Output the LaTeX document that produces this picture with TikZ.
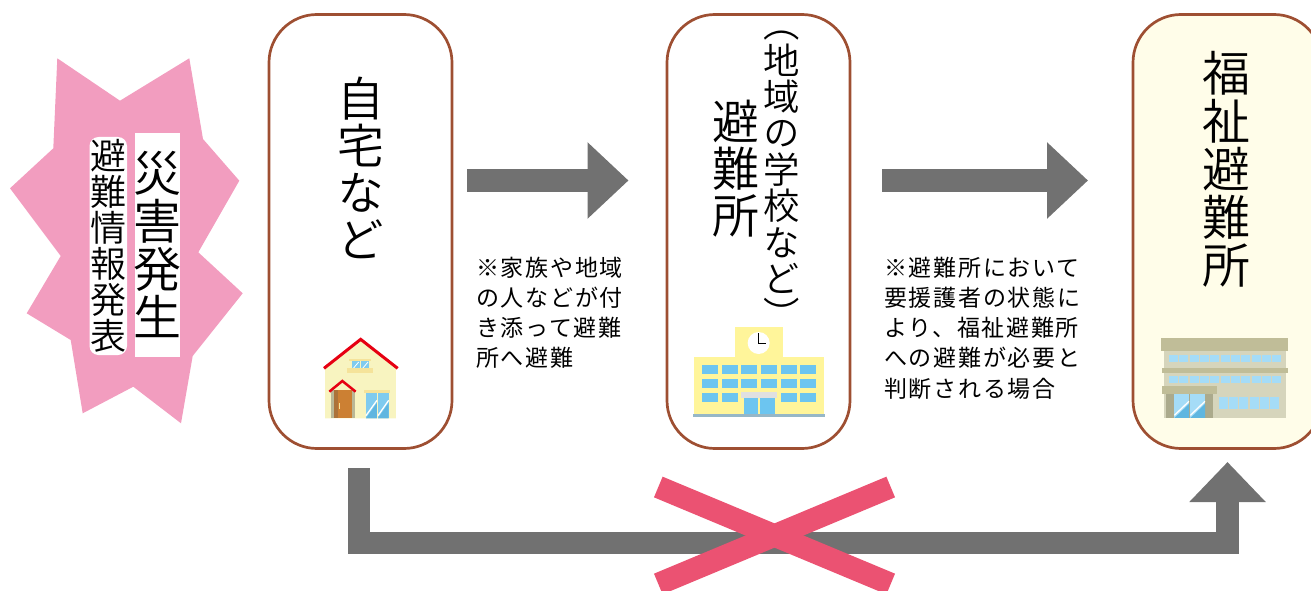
\documentclass[tikz,border=0pt]{standalone}
\usepackage{fontspec}
\usetikzlibrary{arrows.meta}
\setmainfont{Noto Sans CJK JP}
\newfontfamily\vjp[RawFeature={vertical}]{Noto Sans CJK JP DemiLight}
\newfontfamily\notejp[LetterSpace=7.5]{Noto Sans CJK JP}
\definecolor{boxline}{HTML}{9E4F32}
\definecolor{starpink}{HTML}{F29DBF}
\definecolor{arrowgray}{HTML}{717171}
\definecolor{crosspink}{HTML}{EB5272}
\definecolor{cream}{HTML}{FFFDE9}
\definecolor{wall}{HTML}{F8F4C0}
\definecolor{roofred}{HTML}{E60012}
\definecolor{trim}{HTML}{F5E39A}
\definecolor{glassd}{HTML}{5FB6E0}
\definecolor{glassl}{HTML}{7FCBEF}
\definecolor{schoolw}{HTML}{FFF59A}
\definecolor{schoolg}{HTML}{6CC5F0}
\definecolor{olive}{HTML}{C0BD98}
\definecolor{oliveb}{HTML}{D6D5BC}
\definecolor{porch}{HTML}{ABAA8C}
\definecolor{wglass}{HTML}{A5DCF7}
\newcommand{\zr}[5]{\fill[#5] (#1,#2) rectangle (#3,#4);}
\newcommand{\pane}[5]{% x1 y1 x2 y2 upper colour
  \fill[#5] (#1,#2) rectangle (#3,#4);
  \fill[glassd] (#1,#4) -- (#3,#2+30) -- (#3,#4) -- cycle;
  \draw[white,line width=1.3pt] (#1,#4-8) -- (#3,#2+22);}
\begin{document}
\begin{tikzpicture}[x=1pt,y=-1pt,
 placebox/.style={draw=boxline,line width=2.7pt,rounded corners=48pt,minimum width=183pt,minimum height=434pt,inner sep=0pt,outer sep=0pt},
 vt/.style={rotate=-90,inner sep=0pt,anchor=base west},
 note/.style={align=left,anchor=north west,inner sep=0pt},
 blockarrow/.style={draw=arrowgray,line width=23pt,-{Triangle[length=41pt,width=74pt]}},
 crossarm/.style={draw=crosspink,line width=22.4pt}]
\useasboundingbox (0,0) rectangle (1311,591);
% burst
\fill[starpink] (57.3,58.3) -- (120,100.7) -- (189.3,58.3) -- (203,139) -- (239.3,180.7) -- (198.3,252.3) -- (242.7,293.3) -- (192.7,356) -- (181,423.3) -- (133.3,386.7) -- (82.7,413.3) -- (70.7,340) -- (26.7,313.3) -- (60.7,256) -- (10,188.3) -- (53.3,148.3) -- cycle;
\fill[white] (135,133) rectangle (180,357);
\fill[white,rounded corners=9pt] (89.5,137) rectangle (127,355);
\node[vt,font=\vjp\fontsize{48}{48}\selectfont] (t0a) at (157.5,149) {災害発生};
\node[vt,font=\vjp\fontsize{36}{36}\selectfont] (t0b) at (108,137.5) {避難情報発表};
% boxes
\node[placebox,anchor=north west] (b1) at (269,14.5) {};
\node[placebox,anchor=north west] (b2) at (667,14.5) {};
\node[placebox,anchor=north west,fill=cream,minimum width=189pt] (b3) at (1133,14.5) {};
\node[vt,font=\vjp\fontsize{47}{47}\selectfont] (t1) at (361,75) {自宅など};
\node[vt,font=\vjp\fontsize{36.4}{36.4}\selectfont] (t2a) at (782,5.5) {（地域の学校など）};
\node[vt,font=\vjp\fontsize{47}{47}\selectfont] (t2b) at (736,98) {避難所};
\node[vt,font=\vjp\fontsize{48}{48}\selectfont] (t3) at (1226,49) {福祉避難所};
% arrows
\coordinate (a1s) at (467,180.5); \coordinate (a1e) at (628.5,180.5);
\coordinate (a2s) at (882,180.5); \coordinate (a2e) at (1088,180.5);
\coordinate (a3s) at (359,468); \coordinate (a3m) at (359,543); \coordinate (a3n) at (1227.5,543); \coordinate (a3e) at (1227.5,462);
\draw[blockarrow] (a1s) -- (a1e);
\draw[blockarrow] (a2s) -- (a2e);
\draw[blockarrow,line width=22.5pt,line join=miter,-{Triangle[length=40pt,width=74pt]}] (a3s) -- (a3m) -- (a3n) -- (a3e);
% cross
\coordinate (c1) at (658.3,487); \coordinate (c2) at (890.7,584);
\coordinate (c3) at (890.7,487); \coordinate (c4) at (658.3,584);
\draw[crossarm] (c1) -- (c2);
\draw[crossarm] (c3) -- (c4);
% notes
\node[note,font=\notejp\fontsize{23}{30.3}\selectfont] (n1) at (476,256.5) {※家族や地域\\の人などが付\\き添って避難\\所へ避難};
\node[note,font=\notejp\fontsize{23}{30.3}\selectfont] (n2) at (884,256.5) {※避難所において\\要援護者の状態に\\より、福祉避難所\\への避難が必要と\\判断される場合};
% house
\begin{scope}[shift={(300,320)},x=0.3333pt,y=-0.3333pt]
 \fill[wall] (75,295) -- (75,140) -- (182,60) -- (288,140) -- (288,295) -- cycle;
 \draw[roofred,line width=3pt] (72,145) -- (182,58) -- (293,145);
 \zr{147}{117}{213}{122}{trim}
 \zr{155}{123}{180}{145}{glassl} \zr{183}{123}{208}{145}{glassl}
 \draw[white,line width=.8pt] (160,145)--(176,126) (188,145)--(204,126);
 \zr{141}{144}{219}{158}{trim}
 \zr{93}{210}{165}{295}{olive!90!gray}
 \zr{102}{210}{156}{295}{brown!80!orange}
 \zr{102}{210}{114}{295}{brown!90!black}
 \zr{117}{248}{121}{267}{trim}
 \draw[roofred,line width=2.5pt] (88,215) -- (127,183) -- (167,215);
 \zr{192}{210}{270}{219}{trim}
 \pane{198}{219}{231}{295}{glassl}
 \pane{234}{219}{266}{295}{glassl}
\end{scope}
% school
\begin{scope}[shift={(680,310)},x=0.3333pt,y=-0.3333pt]
 \zr{165}{50}{309}{141}{schoolw}
 \zr{41}{141}{432}{312}{schoolw}
 \zr{39}{312}{435}{321}{wglass!60!gray}
 \fill[white] (236,99) circle[radius=11pt];
 \draw[black,line width=1pt] (235,70) -- (235,101) -- (258,101);
 \foreach \xa/\xb in {66/114,126/174,183/231,243/291,303/351,360/408}{
  \zr{\xa}{165}{\xb}{192}{schoolg} \zr{\xa}{207}{\xb}{234}{schoolg}}
 \foreach \xa/\xb in {66/114,126/174,303/351,360/408}{\zr{\xa}{249}{\xb}{276}{schoolg}}
 \zr{183}{246}{291}{264}{black!12}
 \zr{192}{264}{234}{312}{schoolg} \zr{240}{264}{285}{312}{schoolg}
\end{scope}
% welfare shelter
\begin{scope}[shift={(1140,320)},x=0.3333pt,y=-0.3333pt]
 \zr{72}{93}{438}{294}{oliveb}
 \zr{63}{54}{444}{93}{olive}
 \zr{66}{144}{444}{159}{olive}
 \foreach \xa/\xb in {87/114,118/145,150/178,181/207,210/238,243/270,273/300,303/330,336/363,366/393,396/423}{
  \zr{\xa}{105}{\xb}{126}{wglass} \zr{\xa}{168}{\xb}{190}{wglass}}
 \zr{78}{222}{219}{294}{porch}
 \zr{66}{198}{231}{222}{olive}
 \pane{103}{222}{147}{294}{wglass}
 \pane{151}{222}{195}{294}{wglass}
 \foreach \xa/\xb in {238/264,267/294,297/324,330/357,360/387,390/417}{\zr{\xa}{232}{\xb}{267}{wglass}}
\end{scope}
\end{tikzpicture}
\end{document}
